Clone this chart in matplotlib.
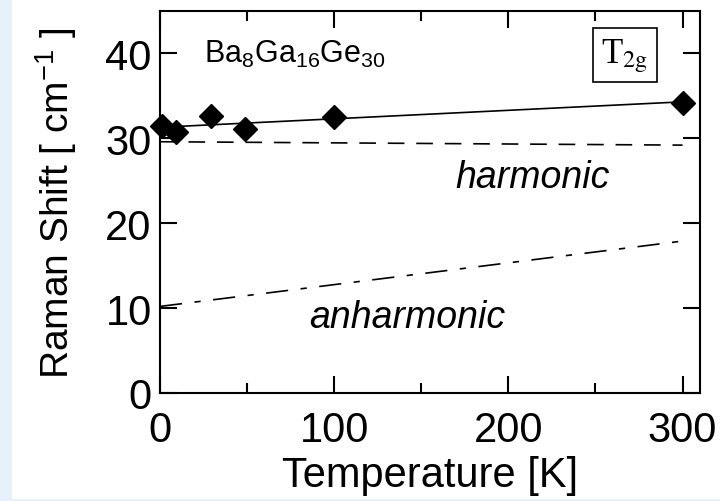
import numpy as np
import matplotlib
matplotlib.use("Agg")
import matplotlib.pyplot as plt
from matplotlib.patches import Rectangle

plt.rcParams['font.family'] = ['Liberation Sans', 'DejaVu Sans']
plt.rcParams['mathtext.fontset'] = 'custom'
plt.rcParams['mathtext.rm'] = 'Liberation Sans'
plt.rcParams['mathtext.it'] = 'Liberation Sans:italic'
plt.rcParams['lines.scale_dashes'] = False

# Datos medidos (T2g)
temp = [1, 9, 29, 49, 100, 300]
shift = [31.5, 30.8, 32.6, 31.1, 32.5, 34.2]

# Ajuste lineal
fit_T = [0, 300]
fit_w = [31.3, 34.3]

# Contribuciones
harm_T = [0, 300]
harm_w = [29.6, 29.2]
anharm_T = [0, 300]
anharm_w = [10.2, 17.9]

fig = plt.figure(figsize=(7.2, 5.02), dpi=100)
fig.patch.set_facecolor('#e6f1fb')
fig.add_artist(Rectangle((12 / 720, 2 / 502), 1, 1, transform=fig.transFigure,
                         facecolor='white', edgecolor='none', zorder=-10))
ax = fig.add_axes([160 / 720, 108 / 502, 540 / 720, 382 / 502])

ax.plot(fit_T, fit_w, color='black', linewidth=1.2)
ax.plot(temp, shift, linestyle='none', marker='D', markersize=12.5, color='black',
        clip_on=False, zorder=5)
ax.plot(harm_T, harm_w, color='black', linewidth=1.2, linestyle=(0, (12, 8.5)))
ax.plot(anharm_T, anharm_w, color='black', linewidth=1.2,
        linestyle=(0, (16, 9, 4.5, 9)))

ax.set_xlim(0, 310)
ax.set_ylim(0, 45)
ax.set_xticks([0, 100, 200, 300])
ax.set_xticks([50, 150, 250], minor=True)
ax.set_yticks([0, 10, 20, 30, 40])

ax.tick_params(which='both', direction='in', top=True, right=True, width=1.5,
               labelsize=30)
ax.tick_params(axis='x', which='both', pad=12)
ax.tick_params(axis='y', which='both', pad=6)
ax.tick_params(which='major', length=12)
ax.tick_params(which='minor', length=7)
for s in ax.spines.values():
    s.set_linewidth(1.5)

ax.set_xlabel("Temperature [K]", fontsize=30, labelpad=4)
ax.set_ylabel("Raman Shift [ cm$^{-1}$ ]", fontsize=28, labelpad=19)

ax.text(25.5, 39.0, "Ba$_8$Ga$_{16}$Ge$_{30}$", fontsize=22, ha='left', va='baseline')
ax.text(267, 39.8, r"T$_\mathrm{2g}$", fontsize=25, ha='center', va='center',
        family='Liberation Serif', math_fontfamily='stix',
        bbox=dict(boxstyle='square,pad=0.25', facecolor='white', edgecolor='black',
                  linewidth=1.2))
ax.text(214, 25.4, "harmonic", fontsize=27, style='italic', ha='center', va='center')
ax.text(142, 8.9, "anharmonic", fontsize=27, style='italic', ha='center', va='center')

fig.savefig("out.png", dpi=100)
